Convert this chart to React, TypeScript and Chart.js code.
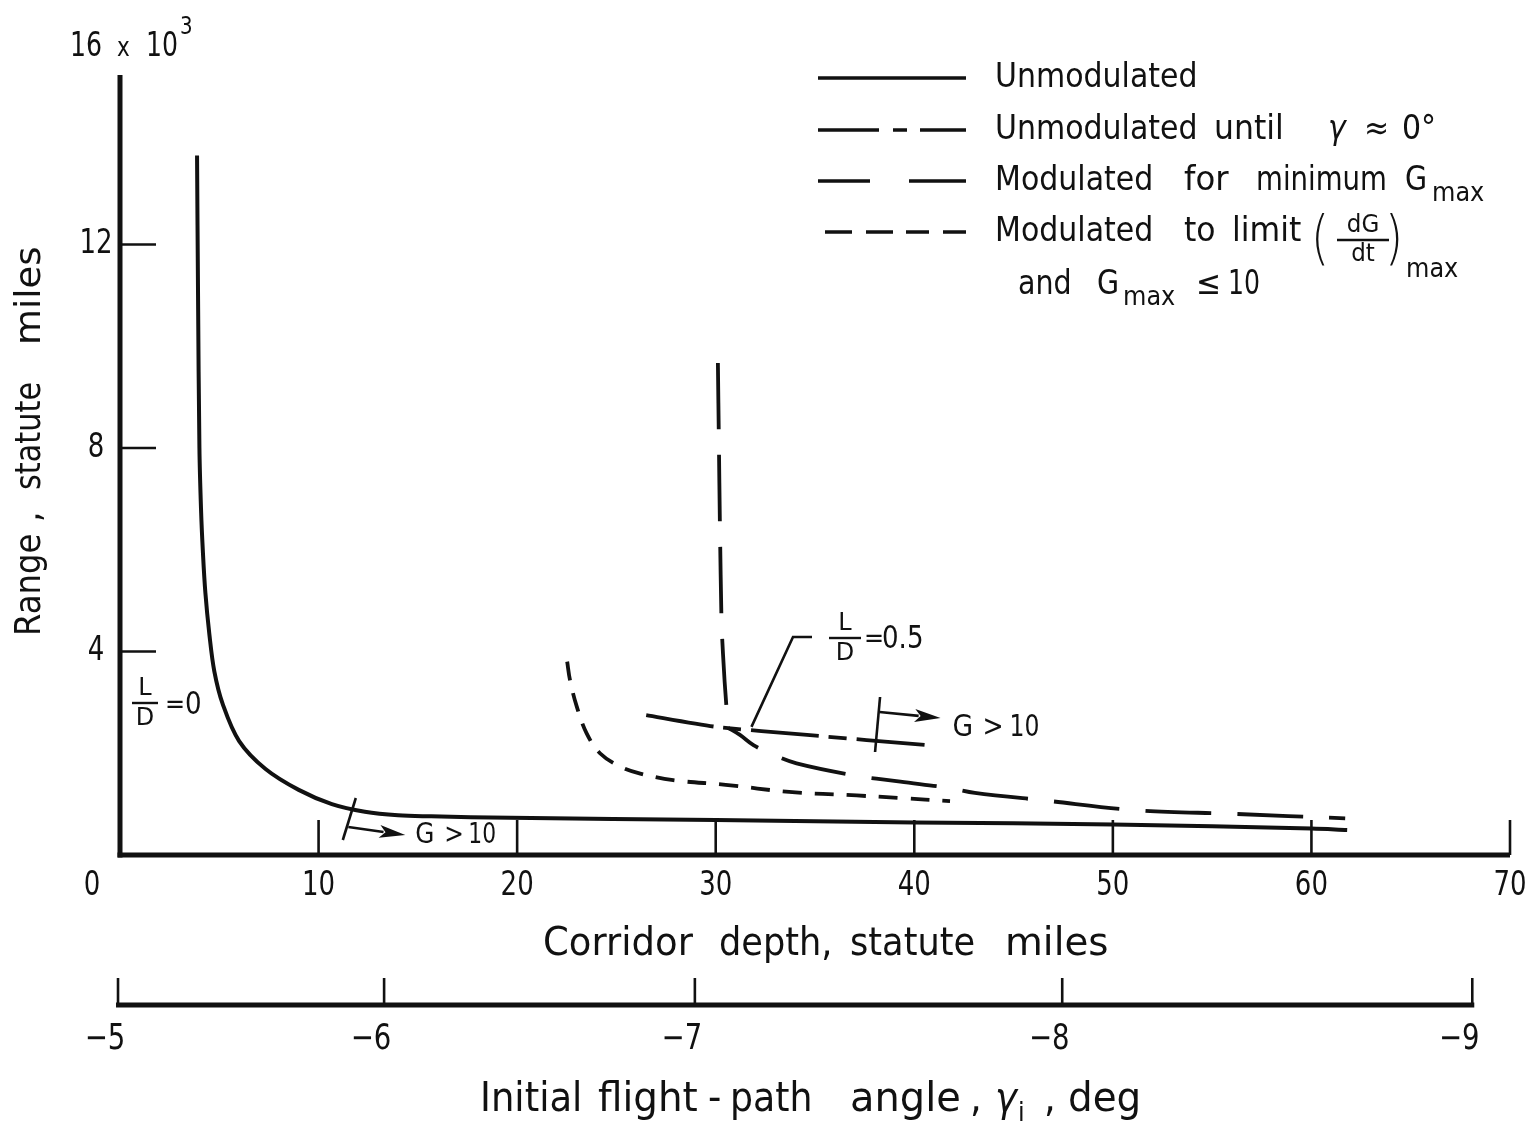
import React, { useEffect, useRef } from "react";
import { Chart, registerables } from "chart.js";

Chart.register(...registerables);

// ---------- axis data ----------
const xMinVal = 0;
const xMaxVal = 70;
const yMinVal = 0;
const yMaxVal = 15.33;
const xTickValues = [0, 10, 20, 30, 40, 50, 60, 70];
const xTickLabels = ["0", "10", "20", "30", "40", "50", "60", "70"];
const yTickValues = [4, 8, 12];
const yTickLabels = ["4", "8", "12"];
const angleTickLabels = ["\u22125", "\u22126", "\u22127", "\u22128", "\u22129"];
const angleTickDepths = [-0.1, 13.3, 28.95, 47.45, 68.1];

// ---------- series data (corridor depth, range in thousands of miles) ----------
// L/D = 0, unmodulated
const ld0X = [3.88, 3.93, 4.0, 4.08, 4.17, 4.3, 4.5, 4.75, 5.17, 6.0, 7.33, 9.0, 10.67, 12.33, 14.0, 15.67, 19.67, 30.0, 40.0, 50.0, 60.0, 61.8];
const ld0Y = [13.75, 11.0, 8.0, 6.8, 5.99, 5.15, 4.34, 3.61, 2.97, 2.24, 1.69, 1.28, 1.0, 0.85, 0.78, 0.76, 0.73, 0.69, 0.64, 0.6, 0.52, 0.49];

// L/D = 0.5, unmodulated until gamma ~ 0
const ld05UntilX = [26.5, 30.0, 34.6, 40.6];
const ld05UntilY = [2.75, 2.52, 2.36, 2.16];

// L/D = 0.5, modulated for minimum Gmax (vertical branch and lower branch)
const minGVertX = [30.11, 30.16, 30.21, 30.3, 30.45, 30.62];
const minGVertY = [9.67, 8.1, 6.52, 4.49, 3.4, 2.5];
const minGCurveX = [30.62, 31.22, 31.9, 32.9, 34.07, 36.9, 39.3, 41.7, 43.05, 46.6, 51.2, 55.97, 61.7];
const minGCurveY = [2.5, 2.36, 2.16, 1.97, 1.8, 1.57, 1.44, 1.32, 1.22, 1.07, 0.88, 0.81, 0.72];

// L/D = 0.5, modulated to limit (dG/dt)max and Gmax <= 10
const limitX = [22.52, 22.66, 23.0, 23.5, 24.17, 25.18, 26.2, 27.86, 30.5, 33.7, 37.1, 39.3, 41.8];
const limitY = [3.8, 3.44, 2.92, 2.39, 2.0, 1.74, 1.6, 1.47, 1.38, 1.24, 1.17, 1.12, 1.06];

// G > 10 onset (corridor depth)
const gLimitLD0 = 11.8;
const gLimitLD05 = 38.1;

// ---------- styling ----------
const INK = "#111";
const FF = '"DejaVu Sans", "Liberation Sans", sans-serif';
const DASH_SOLID: number[] = [];
const DASH_UNTIL = [68, 10, 18, 10];
const DASH_MING = [66, 26];
const DASH_LIMIT = [19, 13];

const pts = (xs: number[], ys: number[]) => xs.map((x, i) => ({ x, y: ys[i] }));

type TOpt = { align?: CanvasTextAlign; sx?: number; sy?: number; italic?: boolean; weight?: string };

function txt(ctx: CanvasRenderingContext2D, s: string, x: number, y: number, size: number, o: TOpt = {}) {
  const sx = o.sx ?? 1;
  const sy = o.sy ?? 1.1;
  ctx.save();
  ctx.font = `${o.italic ? "italic " : ""}${o.weight ?? "normal"} ${size}px ${FF}`;
  ctx.textAlign = o.align ?? "left";
  ctx.textBaseline = "middle";
  ctx.translate(x, y);
  ctx.scale(sx, sy);
  ctx.fillText(s, 0, 0);
  const w = ctx.measureText(s).width * sx;
  ctx.restore();
  return w;
}

function seg(ctx: CanvasRenderingContext2D, x1: number, y1: number, x2: number, y2: number) {
  ctx.beginPath();
  ctx.moveTo(x1, y1);
  ctx.lineTo(x2, y2);
  ctx.stroke();
}

function arrow(ctx: CanvasRenderingContext2D, x1: number, y1: number, x2: number, y2: number) {
  const ang = Math.atan2(y2 - y1, x2 - x1);
  const len = 26;
  const half = 6.5;
  const c = Math.cos(ang);
  const s = Math.sin(ang);
  const bx = x2 - len * c;
  const by = y2 - len * s;
  seg(ctx, x1, y1, bx + 4 * c, by + 4 * s);
  ctx.beginPath();
  ctx.moveTo(x2, y2);
  ctx.lineTo(bx - half * s, by + half * c);
  ctx.lineTo(bx + 6 * c, by + 6 * s);
  ctx.lineTo(bx + half * s, by - half * c);
  ctx.closePath();
  ctx.fill();
}

function fraction(ctx: CanvasRenderingContext2D, top: string, bottom: string, cx: number, cy: number, size: number, barW: number) {
  txt(ctx, top, cx, cy - size * 0.6, size, { align: "center", sy: 1.05 });
  txt(ctx, bottom, cx, cy + size * 0.64, size, { align: "center", sy: 1.05 });
  ctx.lineWidth = 2.4;
  seg(ctx, cx - barW / 2, cy, cx + barW / 2, cy);
}

const decorPlugin = {
  id: "decor",
  beforeDraw(chart: any) {
    const c = chart.ctx as CanvasRenderingContext2D;
    c.save();
    c.fillStyle = "#fff";
    c.fillRect(0, 0, chart.width, chart.height);
    c.restore();
  },
  afterDraw(chart: any) {
    const ctx = chart.ctx as CanvasRenderingContext2D;
    const xs = chart.scales.x;
    const ys = chart.scales.y;
    const X = (v: number) => xs.getPixelForValue(v);
    const Y = (v: number) => ys.getPixelForValue(v);
    ctx.save();
    ctx.strokeStyle = INK;
    ctx.fillStyle = INK;
    ctx.lineCap = "butt";

    const x0 = X(xMinVal);
    const y0 = Y(yMinVal);

    // main axes
    ctx.lineWidth = 5;
    seg(ctx, x0, Y(yMaxVal), x0, y0 + 2.5);
    seg(ctx, x0 - 2.5, y0, X(xMaxVal), y0);

    // ticks (inward)
    ctx.lineWidth = 2.6;
    xTickValues.forEach((v) => {
      if (v > xMinVal) seg(ctx, X(v), y0, X(v), y0 - 35);
    });
    yTickValues.forEach((v) => seg(ctx, x0, Y(v), x0 + 36, Y(v)));

    // x tick labels
    xTickValues.forEach((v, i) => {
      const px = v === xMinVal ? X(v) - 28 : X(v);
      txt(ctx, xTickLabels[i], px, 886, 31, { align: "center", sx: 0.84 });
    });
    // y tick labels
    yTickValues.forEach((v, i) => {
      txt(ctx, yTickLabels[i], 96, Y(v), 31, { align: "center", sx: 0.84 });
    });
    // top label 16 x 10^3
    txt(ctx, "16", 70, 47, 30, { sx: 0.84 });
    txt(ctx, "x", 117, 49, 24, { sx: 0.9 });
    txt(ctx, "10", 146, 47, 30, { sx: 0.84 });
    txt(ctx, "3", 180, 28, 22, { sx: 0.9 });

    // x title
    const xTitleY = 945;
    txt(ctx, "Corridor", 543, xTitleY, 37, { sx: 1.0, sy: 1.05 });
    txt(ctx, "depth,", 719, xTitleY, 37, { sx: 0.95, sy: 1.05 });
    txt(ctx, "statute", 850, xTitleY, 37, { sx: 0.95, sy: 1.05 });
    txt(ctx, "miles", 1005, xTitleY, 37, { sx: 1.05, sy: 1.05 });

    // y title (rotated)
    ctx.save();
    ctx.translate(31, 0);
    ctx.rotate(-Math.PI / 2);
    // in rotated frame, x = -pageY
    txt(ctx, "Range", -636, 0, 33, { sx: 0.98 });
    txt(ctx, ",", -522, 0, 33);
    txt(ctx, "statute", -490, 0, 33, { sx: 0.92 });
    txt(ctx, "miles", -345, 0, 33, { sx: 1.12 });
    ctx.restore();

    // secondary axis: initial flight-path angle
    const yA = 1005;
    ctx.lineWidth = 5;
    seg(ctx, X(angleTickDepths[0]) - 2, yA, X(angleTickDepths[angleTickDepths.length - 1]) + 2, yA);
    ctx.lineWidth = 2.6;
    angleTickDepths.forEach((d, i) => {
      seg(ctx, X(d), yA, X(d), yA - 27);
      txt(ctx, angleTickLabels[i], X(d) - 13, 1040, 32, { align: "center", sx: 0.86 });
    });
    const aY = 1100;
    txt(ctx, "Initial", 480, aY, 37, { sx: 1.0 });
    txt(ctx, "flight", 598, aY, 37, { sx: 1.05 });
    txt(ctx, "-", 708, aY, 37);
    txt(ctx, "path", 730, aY, 37, { sx: 0.98 });
    txt(ctx, "angle", 850, aY, 37, { sx: 1.08 });
    txt(ctx, ",", 970, aY, 37);
    txt(ctx, "\u03b3", 995, aY, 37, { italic: true });
    txt(ctx, "i", 1018, aY + 14, 24);
    txt(ctx, ",", 1044, aY, 37);
    txt(ctx, "deg", 1068, aY, 37, { sx: 1.05 });

    // ---- legend ----
    const lx1 = 818;
    const lx2 = 966;
    const rows = [78, 130, 181, 232];
    const dashes = [DASH_SOLID, [61, 14, 14, 13, 48], [52, 39, 57], [27, 14, 27, 13, 23, 14, 25]];
    ctx.lineWidth = 3.6;
    rows.forEach((ry, i) => {
      ctx.setLineDash(dashes[i]);
      seg(ctx, lx1 + (i === 3 ? 7 : 0), ry, lx2, ry);
    });
    ctx.setLineDash([]);
    const LS = 30;
    const lo: TOpt = { sx: 1.0 };
    txt(ctx, "Unmodulated", 995, rows[0], LS, lo);

    txt(ctx, "Unmodulated", 995, rows[1], LS, lo);
    txt(ctx, "until", 1214, rows[1], LS, { sx: 1.05 });
    txt(ctx, "\u03b3", 1328, rows[1], LS, { italic: true });
    txt(ctx, "\u2248", 1364, rows[1], LS);
    txt(ctx, "0\u00b0", 1402, rows[1], LS);

    txt(ctx, "Modulated", 995, rows[2], LS, lo);
    txt(ctx, "for", 1184, rows[2], LS, { sx: 1.08 });
    txt(ctx, "minimum", 1256, rows[2], LS, { sx: 0.92 });
    txt(ctx, "G", 1405, rows[2], LS, { sx: 0.95 });
    txt(ctx, "max", 1432, rows[2] + 13, 24, { sx: 1.0 });

    txt(ctx, "Modulated", 995, rows[3], LS, lo);
    txt(ctx, "to", 1184, rows[3], LS, { sx: 1.05 });
    txt(ctx, "limit", 1232, rows[3], LS, { sx: 1.05 });
    txt(ctx, "(", 1311, 243, 58, { weight: "200", sx: 0.8, sy: 1.0 });
    fraction(ctx, "dG", "dt", 1363, 240, 23, 52);
    txt(ctx, ")", 1385, 243, 58, { weight: "200", sx: 0.8, sy: 1.0 });
    txt(ctx, "max", 1406, 270, 24);

    const r5 = 285;
    txt(ctx, "and", 1018, r5, LS, { sx: 0.95 });
    txt(ctx, "G", 1097, r5, LS, { sx: 0.95 });
    txt(ctx, "max", 1123, r5 + 13, 24, { sx: 1.0 });
    txt(ctx, "\u2264", 1196, r5, LS);
    txt(ctx, "10", 1228, r5, LS, { sx: 0.84 });

    // ---- annotations ----
    // L/D = 0
    fraction(ctx, "L", "D", 145, 703, 24, 26);
    txt(ctx, "=", 165, 706, 24);
    txt(ctx, "0", 185, 706, 29, { sx: 0.9 });

    // L/D = 0.5 with leader line
    fraction(ctx, "L", "D", 845, 638, 24, 32);
    txt(ctx, "=", 864, 640, 24);
    txt(ctx, "0.5", 882, 640, 29, { sx: 0.9 });
    ctx.lineWidth = 2.6;
    ctx.beginPath();
    ctx.moveTo(812, 637);
    ctx.lineTo(793, 637);
    ctx.lineTo(X(31.8), Y(2.44) - 4);
    ctx.stroke();

    // G > 10 marker, L/D = 0
    const ga = X(gLimitLD0);
    ctx.lineWidth = 2.6;
    seg(ctx, ga + 1.5, 798, ga - 11.5, 840);
    arrow(ctx, ga - 6, 827, ga + 51, 835);
    txt(ctx, "G", ga + 61, 836, 26, { sx: 0.95 });
    txt(ctx, ">", ga + 90, 836, 26, { sx: 0.9 });
    txt(ctx, "10", ga + 114, 836, 26, { sx: 0.84 });

    // G > 10 marker, L/D = 0.5
    const gb = X(gLimitLD05);
    ctx.lineWidth = 2.6;
    seg(ctx, gb + 3.5, 697, gb - 1.5, 752);
    arrow(ctx, gb + 3, 712, gb + 64, 718);
    txt(ctx, "G", gb + 76, 728, 28, { sx: 0.95 });
    txt(ctx, ">", gb + 106, 728, 28, { sx: 0.9 });
    txt(ctx, "10", gb + 133, 728, 28, { sx: 0.84 });

    ctx.restore();
  },
};

export default function App() {
  const ref = useRef<HTMLCanvasElement>(null);
  useEffect(() => {
    document.body.style.margin = "0";
    const base = {
      borderColor: INK,
      borderWidth: 3.8,
      pointRadius: 0,
      fill: false,
      tension: 0.35,
      borderCapStyle: "butt" as const,
    };
    const chart = new Chart(ref.current as HTMLCanvasElement, {
      type: "line",
      data: {
        datasets: [
          { ...base, label: "Unmodulated, L/D = 0", data: pts(ld0X, ld0Y), borderDash: DASH_SOLID, borderWidth: 4 },
          { ...base, label: "Unmodulated until \u03b3 \u2248 0\u00b0, L/D = 0.5", data: pts(ld05UntilX, ld05UntilY), borderDash: DASH_UNTIL, tension: 0.2 },
          { ...base, label: "Modulated for minimum Gmax (branch)", data: pts(minGVertX, minGVertY), borderDash: DASH_MING, tension: 0.2 },
          { ...base, label: "Modulated for minimum Gmax", data: pts(minGCurveX, minGCurveY), borderDash: DASH_MING, borderDashOffset: 30 },
          { ...base, label: "Modulated to limit (dG/dt)max and Gmax \u2264 10", data: pts(limitX, limitY), borderDash: DASH_LIMIT },
        ],
      },
      options: {
        responsive: false,
        animation: false,
        devicePixelRatio: 1,
        layout: { padding: { left: 120, right: 30, top: 75, bottom: 272 } },
        plugins: { legend: { display: false }, tooltip: { enabled: false }, title: { display: false } },
        scales: {
          x: { type: "linear", min: xMinVal, max: xMaxVal, display: false },
          y: { type: "linear", min: yMinVal, max: yMaxVal, display: false },
        },
      },
      plugins: [decorPlugin],
    });
    return () => chart.destroy();
  }, []);
  return (
    <div style={{ width: 1540, height: 1127, position: "relative" }}>
      <canvas ref={ref} width={1540} height={1127} style={{ display: "block", width: 1540, height: 1127 }} />
    </div>
  );
}
